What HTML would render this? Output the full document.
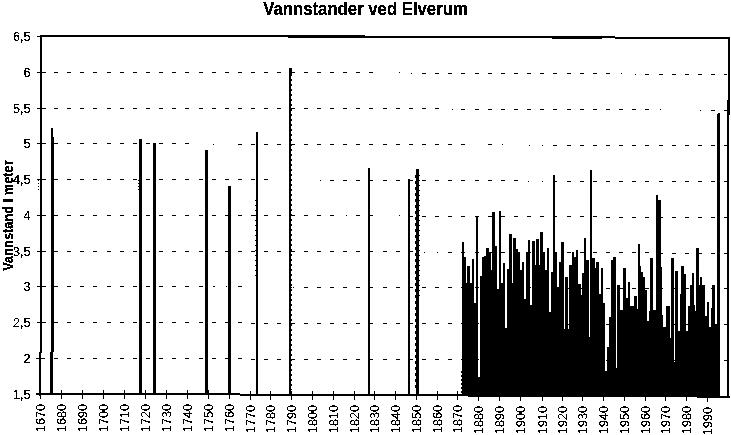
<!DOCTYPE html>
<html><head><meta charset="utf-8"><title>Vannstander ved Elverum</title>
<style>html,body{margin:0;padding:0;background:#fff;}svg{display:block;}</style></head><body>
<svg width="731" height="435" viewBox="0 0 731 435">
<rect x="0" y="0" width="731" height="435" fill="#fff"/>
<g fill="#000" shape-rendering="crispEdges">
<path d="M54 72h4v1h-4zM67 72h4v1h-4zM80 72h4v1h-4zM93 72h4v1h-4zM107 72h4v1h-4zM120 72h4v1h-4zM133 72h4v1h-4zM146 72h4v1h-4zM159 72h4v1h-4zM172 72h4v1h-4zM185 72h4v1h-4zM199 72h4v1h-4zM212 72h4v1h-4zM225 72h4v1h-4zM238 72h4v1h-4zM251 72h4v1h-4zM264 72h4v1h-4zM277 72h4v1h-4zM291 72h4v1h-4zM304 72h4v1h-4zM317 72h4v1h-4zM330 72h4v1h-4zM343 72h4v1h-4zM356 72h4v1h-4zM369 72h4v1h-4zM422 73h4v1h-4zM435 73h4v1h-4zM448 73h4v1h-4zM461 73h4v1h-4zM475 73h4v1h-4zM488 73h4v1h-4zM501 73h4v1h-4zM514 73h4v1h-4zM527 73h4v1h-4zM540 73h4v1h-4zM553 73h4v1h-4zM567 73h4v1h-4zM580 73h4v1h-4zM593 73h4v1h-4zM606 73h4v1h-4zM645 74h4v1h-4zM659 74h4v1h-4zM672 74h4v1h-4zM685 74h4v1h-4zM698 74h4v1h-4zM711 74h4v1h-4zM724 74h3v1h-3zM399 72h1v1h-1zM411 73h1v1h-1zM621 73h1v1h-1zM635 74h1v1h-1zM54 108h4v1h-4zM67 108h4v1h-4zM80 108h4v1h-4zM93 108h4v1h-4zM107 108h4v1h-4zM120 108h4v1h-4zM133 108h4v1h-4zM146 108h4v1h-4zM159 108h4v1h-4zM172 108h4v1h-4zM185 108h4v1h-4zM199 108h4v1h-4zM212 108h4v1h-4zM225 108h4v1h-4zM238 108h4v1h-4zM251 108h4v1h-4zM264 108h4v1h-4zM277 108h4v1h-4zM291 108h4v1h-4zM304 108h4v1h-4zM317 108h4v1h-4zM330 108h4v1h-4zM343 108h4v1h-4zM356 108h4v1h-4zM369 108h4v1h-4zM383 108h4v1h-4zM396 108h4v1h-4zM409 108h4v1h-4zM422 108h4v1h-4zM435 108h4v1h-4zM461 109h4v1h-4zM475 109h4v1h-4zM488 109h4v1h-4zM501 109h4v1h-4zM514 109h4v1h-4zM527 109h4v1h-4zM540 109h4v1h-4zM553 109h4v1h-4zM567 109h4v1h-4zM580 109h4v1h-4zM593 109h4v1h-4zM606 109h4v1h-4zM619 109h4v1h-4zM632 109h4v1h-4zM645 109h4v1h-4zM711 110h4v1h-4zM724 110h3v1h-3zM452 109h1v1h-1zM660 109h1v1h-1zM700 110h1v1h-1zM54 143h4v1h-4zM67 143h4v1h-4zM80 143h4v1h-4zM93 143h4v1h-4zM107 143h4v1h-4zM120 143h4v1h-4zM133 143h4v1h-4zM146 143h4v1h-4zM159 143h4v1h-4zM172 143h4v1h-4zM185 143h4v1h-4zM238 144h4v1h-4zM251 144h4v1h-4zM264 144h4v1h-4zM277 144h4v1h-4zM291 144h4v1h-4zM304 144h4v1h-4zM317 144h4v1h-4zM330 144h4v1h-4zM343 144h4v1h-4zM356 144h4v1h-4zM369 144h4v1h-4zM383 144h4v1h-4zM396 144h4v1h-4zM409 144h4v1h-4zM422 144h4v1h-4zM435 144h4v1h-4zM448 144h4v1h-4zM461 144h4v1h-4zM488 144h4v1h-4zM553 145h4v1h-4zM567 145h4v1h-4zM580 145h4v1h-4zM593 145h4v1h-4zM606 145h4v1h-4zM619 145h4v1h-4zM632 145h4v1h-4zM645 145h4v1h-4zM659 145h4v1h-4zM672 145h4v1h-4zM685 145h4v1h-4zM698 145h4v1h-4zM711 145h4v1h-4zM724 145h3v1h-3zM213 144h1v1h-1zM502 144h1v1h-1zM529 145h1v1h-1zM542 145h1v1h-1zM54 179h4v1h-4zM67 179h4v1h-4zM80 179h4v1h-4zM93 179h4v1h-4zM107 179h4v1h-4zM120 179h4v1h-4zM133 179h4v1h-4zM146 179h4v1h-4zM159 179h4v1h-4zM172 179h4v1h-4zM185 179h4v1h-4zM199 179h4v1h-4zM212 179h4v1h-4zM225 179h4v1h-4zM238 179h4v1h-4zM251 179h4v1h-4zM264 179h4v1h-4zM330 180h4v1h-4zM343 180h4v1h-4zM356 180h4v1h-4zM369 180h4v1h-4zM383 180h4v1h-4zM396 180h4v1h-4zM409 180h4v1h-4zM422 180h4v1h-4zM435 180h4v1h-4zM448 180h4v1h-4zM461 180h4v1h-4zM475 180h4v1h-4zM488 180h4v1h-4zM501 180h4v1h-4zM514 180h4v1h-4zM553 181h4v1h-4zM567 181h4v1h-4zM580 181h4v1h-4zM593 181h4v1h-4zM606 181h4v1h-4zM619 181h4v1h-4zM632 181h4v1h-4zM645 181h4v1h-4zM659 181h4v1h-4zM672 181h4v1h-4zM685 181h4v1h-4zM698 181h4v1h-4zM711 181h4v1h-4zM724 181h3v1h-3zM320 180h1v1h-1zM528 181h1v1h-1zM542 181h1v1h-1zM54 215h4v1h-4zM67 215h4v1h-4zM80 215h4v1h-4zM93 215h4v1h-4zM107 215h4v1h-4zM120 215h4v1h-4zM133 215h4v1h-4zM146 215h4v1h-4zM159 215h4v1h-4zM172 215h4v1h-4zM185 215h4v1h-4zM199 215h4v1h-4zM212 215h4v1h-4zM225 215h4v1h-4zM238 215h4v1h-4zM251 215h4v1h-4zM264 215h4v1h-4zM277 215h4v1h-4zM291 215h4v1h-4zM304 215h4v1h-4zM317 215h4v1h-4zM330 215h4v1h-4zM356 215h4v1h-4zM369 215h4v1h-4zM409 216h4v1h-4zM422 216h4v1h-4zM435 216h4v1h-4zM448 216h4v1h-4zM461 216h4v1h-4zM475 216h4v1h-4zM488 216h4v1h-4zM501 216h4v1h-4zM514 216h4v1h-4zM527 216h4v1h-4zM540 216h4v1h-4zM553 216h4v1h-4zM567 216h4v1h-4zM580 216h4v1h-4zM593 216h4v1h-4zM606 217h4v1h-4zM619 217h4v1h-4zM632 217h4v1h-4zM645 217h4v1h-4zM659 217h4v1h-4zM672 217h4v1h-4zM685 217h4v1h-4zM698 217h4v1h-4zM711 217h4v1h-4zM724 217h3v1h-3zM346 215h1v1h-1zM399 215h1v1h-1zM54 251h4v1h-4zM67 251h4v1h-4zM80 251h4v1h-4zM93 251h4v1h-4zM107 251h4v1h-4zM120 251h4v1h-4zM133 251h4v1h-4zM146 251h4v1h-4zM159 251h4v1h-4zM172 251h4v1h-4zM185 251h4v1h-4zM199 251h4v1h-4zM212 251h4v1h-4zM225 251h4v1h-4zM238 251h4v1h-4zM251 251h4v1h-4zM264 251h4v1h-4zM277 251h4v1h-4zM291 251h4v1h-4zM304 251h4v1h-4zM317 251h4v1h-4zM330 251h4v1h-4zM343 251h4v1h-4zM356 251h4v1h-4zM369 251h4v1h-4zM383 251h4v1h-4zM396 251h4v1h-4zM409 251h4v1h-4zM448 252h4v1h-4zM461 252h4v1h-4zM475 252h4v1h-4zM488 252h4v1h-4zM501 252h4v1h-4zM514 252h4v1h-4zM527 252h4v1h-4zM540 252h4v1h-4zM553 252h4v1h-4zM567 252h4v1h-4zM580 252h4v1h-4zM593 252h4v1h-4zM606 252h4v1h-4zM619 252h4v1h-4zM632 252h4v1h-4zM645 252h4v1h-4zM659 253h4v1h-4zM672 253h4v1h-4zM685 253h4v1h-4zM698 253h4v1h-4zM711 253h4v1h-4zM724 253h3v1h-3zM424 252h1v1h-1zM437 252h1v1h-1zM54 286h4v1h-4zM67 286h4v1h-4zM80 286h4v1h-4zM93 286h4v1h-4zM107 286h4v1h-4zM120 286h4v1h-4zM133 286h4v1h-4zM146 286h4v1h-4zM159 286h4v1h-4zM172 286h4v1h-4zM185 286h4v1h-4zM199 286h4v1h-4zM238 286h4v1h-4zM304 287h4v1h-4zM317 287h4v1h-4zM330 287h4v1h-4zM343 287h4v1h-4zM356 287h4v1h-4zM369 287h4v1h-4zM383 287h4v1h-4zM396 287h4v1h-4zM409 287h4v1h-4zM422 287h4v1h-4zM435 287h4v1h-4zM448 287h4v1h-4zM461 287h4v1h-4zM475 287h4v1h-4zM488 287h4v1h-4zM501 287h4v1h-4zM514 287h4v1h-4zM527 287h4v1h-4zM540 287h4v1h-4zM553 287h4v1h-4zM567 288h4v1h-4zM580 288h4v1h-4zM593 288h4v1h-4zM606 288h4v1h-4zM619 288h4v1h-4zM632 288h4v1h-4zM645 288h4v1h-4zM659 288h4v1h-4zM672 288h4v1h-4zM685 288h4v1h-4zM698 288h4v1h-4zM711 288h4v1h-4zM724 288h3v1h-3zM213 286h1v1h-1zM214 286h1v1h-1zM226 286h1v1h-1zM291 287h1v1h-1zM293 287h1v1h-1zM54 322h4v1h-4zM67 322h4v1h-4zM80 322h4v1h-4zM93 322h4v1h-4zM107 322h4v1h-4zM120 322h4v1h-4zM133 322h4v1h-4zM146 322h4v1h-4zM159 322h4v1h-4zM172 322h4v1h-4zM185 322h4v1h-4zM199 322h4v1h-4zM212 322h4v1h-4zM225 322h4v1h-4zM238 322h4v1h-4zM251 323h4v1h-4zM264 323h4v1h-4zM277 323h4v1h-4zM291 323h4v1h-4zM304 323h4v1h-4zM317 323h4v1h-4zM330 323h4v1h-4zM343 323h4v1h-4zM356 323h4v1h-4zM369 323h4v1h-4zM383 323h4v1h-4zM396 323h4v1h-4zM409 323h4v1h-4zM422 323h4v1h-4zM435 323h4v1h-4zM448 323h4v1h-4zM461 323h4v1h-4zM475 323h4v1h-4zM488 323h4v1h-4zM501 323h4v1h-4zM514 323h4v1h-4zM527 323h4v1h-4zM540 323h4v1h-4zM553 323h4v1h-4zM567 324h4v1h-4zM580 324h4v1h-4zM593 324h4v1h-4zM606 324h4v1h-4zM619 324h4v1h-4zM632 324h4v1h-4zM645 324h4v1h-4zM659 324h4v1h-4zM672 324h4v1h-4zM685 324h4v1h-4zM698 324h4v1h-4zM711 324h4v1h-4zM724 324h3v1h-3zM54 358h4v1h-4zM67 358h4v1h-4zM80 358h4v1h-4zM93 358h4v1h-4zM107 358h4v1h-4zM120 358h4v1h-4zM133 358h4v1h-4zM146 358h4v1h-4zM159 358h4v1h-4zM172 358h4v1h-4zM185 358h4v1h-4zM199 358h4v1h-4zM212 358h4v1h-4zM225 358h4v1h-4zM238 358h4v1h-4zM251 359h4v1h-4zM264 359h4v1h-4zM277 359h4v1h-4zM291 359h4v1h-4zM304 359h4v1h-4zM317 359h4v1h-4zM330 359h4v1h-4zM343 359h4v1h-4zM356 359h4v1h-4zM369 359h4v1h-4zM383 359h4v1h-4zM396 359h4v1h-4zM409 359h4v1h-4zM422 359h4v1h-4zM435 359h4v1h-4zM448 359h4v1h-4zM461 359h4v1h-4zM475 359h4v1h-4zM488 359h4v1h-4zM501 359h4v1h-4zM514 359h4v1h-4zM527 359h4v1h-4zM540 359h4v1h-4zM553 359h4v1h-4zM567 359h4v1h-4zM580 359h4v1h-4zM593 359h4v1h-4zM606 360h4v1h-4zM619 360h4v1h-4zM632 360h4v1h-4zM645 360h4v1h-4zM659 360h4v1h-4zM672 360h4v1h-4zM685 360h4v1h-4zM698 360h4v1h-4zM711 360h4v1h-4zM724 360h3v1h-3zM41 35h247v2h-247zM288 35h77v3h-77zM365 36h250v2h-250zM552 38h50v1h-50zM615 37h115v2h-115zM40 35h2v318h-2zM39 352h2v44h-2zM728 37h2v63h-2zM727 100h3v15h-3zM727 115h2v283h-2zM36 393h1v2h-1zM37 393h1v2h-1zM38 393h1v2h-1zM39 393h1v2h-1zM40 393h1v2h-1zM41 393h1v2h-1zM42 393h1v2h-1zM43 393h1v2h-1zM44 393h1v2h-1zM45 393h1v2h-1zM46 393h1v2h-1zM47 393h1v2h-1zM48 393h1v2h-1zM49 393h1v2h-1zM50 393h1v2h-1zM51 393h1v2h-1zM52 393h1v2h-1zM53 393h1v2h-1zM54 393h1v2h-1zM55 393h1v2h-1zM56 393h1v2h-1zM57 393h1v2h-1zM58 393h1v2h-1zM59 393h1v2h-1zM60 393h1v2h-1zM61 393h1v2h-1zM62 393h1v2h-1zM63 393h1v2h-1zM64 393h1v2h-1zM65 393h1v2h-1zM66 393h1v2h-1zM67 393h1v2h-1zM68 393h1v2h-1zM69 393h1v2h-1zM70 393h1v2h-1zM71 393h1v2h-1zM72 393h1v2h-1zM73 393h1v2h-1zM74 393h1v2h-1zM75 393h1v2h-1zM76 393h1v2h-1zM77 393h1v2h-1zM78 393h1v2h-1zM79 393h1v2h-1zM80 393h1v2h-1zM81 393h1v2h-1zM82 393h1v2h-1zM83 393h1v2h-1zM84 393h1v2h-1zM85 393h1v2h-1zM86 393h1v2h-1zM87 393h1v2h-1zM88 393h1v2h-1zM89 393h1v2h-1zM90 393h1v2h-1zM91 393h1v2h-1zM92 393h1v2h-1zM93 393h1v2h-1zM94 393h1v2h-1zM95 393h1v2h-1zM96 393h1v2h-1zM97 393h1v2h-1zM98 393h1v2h-1zM99 393h1v2h-1zM100 393h1v2h-1zM101 393h1v2h-1zM102 393h1v2h-1zM103 393h1v2h-1zM104 393h1v2h-1zM105 393h1v2h-1zM106 393h1v2h-1zM107 393h1v2h-1zM108 393h1v2h-1zM109 393h1v2h-1zM110 393h1v2h-1zM111 393h1v2h-1zM112 393h1v2h-1zM113 393h1v2h-1zM114 393h1v2h-1zM115 393h1v2h-1zM116 393h1v2h-1zM117 393h1v2h-1zM118 393h1v2h-1zM119 393h1v2h-1zM120 393h1v2h-1zM121 393h1v2h-1zM122 393h1v2h-1zM123 393h1v2h-1zM124 393h1v2h-1zM125 393h1v2h-1zM126 393h1v2h-1zM127 393h1v2h-1zM128 393h1v2h-1zM129 393h1v2h-1zM130 393h1v2h-1zM131 393h1v2h-1zM132 393h1v2h-1zM133 393h1v2h-1zM134 393h1v2h-1zM135 393h1v2h-1zM136 393h1v2h-1zM137 393h1v2h-1zM138 393h1v2h-1zM139 393h1v2h-1zM140 393h1v2h-1zM141 393h1v2h-1zM142 393h1v2h-1zM143 393h1v2h-1zM144 393h1v2h-1zM145 393h1v2h-1zM146 393h1v2h-1zM147 393h1v2h-1zM148 393h1v2h-1zM149 393h1v2h-1zM150 393h1v2h-1zM151 393h1v2h-1zM152 393h1v2h-1zM153 393h1v2h-1zM154 393h1v2h-1zM155 393h1v2h-1zM156 393h1v2h-1zM157 393h1v2h-1zM158 393h1v2h-1zM159 393h1v2h-1zM160 393h1v2h-1zM161 393h1v2h-1zM162 393h1v2h-1zM163 393h1v2h-1zM164 393h1v2h-1zM165 393h1v2h-1zM166 393h1v2h-1zM167 393h1v2h-1zM168 393h1v2h-1zM169 393h1v2h-1zM170 393h1v2h-1zM171 393h1v2h-1zM172 393h1v2h-1zM173 393h1v2h-1zM174 393h1v2h-1zM175 393h1v2h-1zM176 393h1v2h-1zM177 393h1v2h-1zM178 393h1v2h-1zM179 393h1v2h-1zM180 393h1v2h-1zM181 393h1v2h-1zM182 393h1v2h-1zM183 393h1v2h-1zM184 393h1v2h-1zM185 393h1v2h-1zM186 393h1v2h-1zM187 393h1v2h-1zM188 393h1v2h-1zM189 393h1v2h-1zM190 393h1v2h-1zM191 393h1v2h-1zM192 393h1v2h-1zM193 393h1v2h-1zM194 393h1v2h-1zM195 393h1v2h-1zM196 393h1v2h-1zM197 393h1v2h-1zM198 393h1v2h-1zM199 393h1v2h-1zM200 393h1v2h-1zM201 393h1v2h-1zM202 393h1v2h-1zM203 393h1v2h-1zM204 393h1v2h-1zM205 393h1v2h-1zM206 393h1v2h-1zM207 393h1v2h-1zM208 393h1v2h-1zM209 393h1v2h-1zM210 393h1v2h-1zM211 393h1v2h-1zM212 393h1v2h-1zM213 393h1v2h-1zM214 393h1v2h-1zM215 393h1v2h-1zM216 393h1v2h-1zM217 393h1v2h-1zM218 393h1v2h-1zM219 393h1v2h-1zM220 393h1v2h-1zM221 393h1v2h-1zM222 393h1v2h-1zM223 393h1v2h-1zM224 393h1v2h-1zM225 393h1v2h-1zM226 393h1v2h-1zM227 393h1v2h-1zM228 393h1v2h-1zM229 393h1v2h-1zM230 393h1v2h-1zM231 393h1v2h-1zM232 393h1v2h-1zM233 393h1v2h-1zM234 393h1v2h-1zM235 393h1v2h-1zM236 393h1v2h-1zM237 393h1v2h-1zM238 393h1v2h-1zM239 393h1v2h-1zM240 394h1v2h-1zM241 394h1v2h-1zM242 394h1v2h-1zM243 394h1v2h-1zM244 394h1v2h-1zM245 394h1v2h-1zM246 394h1v2h-1zM247 394h1v2h-1zM248 394h1v2h-1zM249 394h1v2h-1zM250 394h1v2h-1zM251 394h1v2h-1zM252 394h1v2h-1zM253 394h1v2h-1zM254 394h1v2h-1zM255 394h1v2h-1zM256 394h1v2h-1zM257 394h1v2h-1zM258 394h1v2h-1zM259 394h1v2h-1zM260 394h1v2h-1zM261 394h1v2h-1zM262 394h1v2h-1zM263 394h1v2h-1zM264 394h1v2h-1zM265 394h1v2h-1zM266 394h1v2h-1zM267 394h1v2h-1zM268 394h1v2h-1zM269 394h1v2h-1zM270 394h1v2h-1zM271 394h1v2h-1zM272 394h1v2h-1zM273 394h1v2h-1zM274 394h1v2h-1zM275 394h1v2h-1zM276 394h1v2h-1zM277 394h1v2h-1zM278 394h1v2h-1zM279 394h1v2h-1zM280 394h1v2h-1zM281 394h1v2h-1zM282 394h1v2h-1zM283 394h1v2h-1zM284 394h1v2h-1zM285 394h1v2h-1zM286 394h1v2h-1zM287 394h1v2h-1zM288 394h1v2h-1zM289 394h1v2h-1zM290 394h1v2h-1zM291 394h1v2h-1zM292 394h1v2h-1zM293 394h1v2h-1zM294 394h1v2h-1zM295 394h1v2h-1zM296 394h1v2h-1zM297 394h1v2h-1zM298 394h1v2h-1zM299 394h1v2h-1zM300 394h1v2h-1zM301 394h1v2h-1zM302 394h1v2h-1zM303 394h1v2h-1zM304 394h1v2h-1zM305 394h1v2h-1zM306 394h1v2h-1zM307 394h1v2h-1zM308 394h1v2h-1zM309 394h1v2h-1zM310 394h1v2h-1zM311 394h1v2h-1zM312 394h1v2h-1zM313 394h1v2h-1zM314 394h1v2h-1zM315 394h1v2h-1zM316 394h1v2h-1zM317 394h1v2h-1zM318 394h1v2h-1zM319 394h1v2h-1zM320 394h1v2h-1zM321 394h1v2h-1zM322 394h1v2h-1zM323 394h1v2h-1zM324 394h1v2h-1zM325 394h1v2h-1zM326 394h1v2h-1zM327 394h1v2h-1zM328 394h1v2h-1zM329 394h1v2h-1zM330 394h1v2h-1zM331 394h1v2h-1zM332 394h1v2h-1zM333 394h1v2h-1zM334 394h1v2h-1zM335 394h1v2h-1zM336 394h1v2h-1zM337 394h1v2h-1zM338 394h1v2h-1zM339 394h1v2h-1zM340 394h1v2h-1zM341 394h1v2h-1zM342 394h1v2h-1zM343 394h1v2h-1zM344 394h1v2h-1zM345 394h1v2h-1zM346 394h1v2h-1zM347 394h1v2h-1zM348 394h1v2h-1zM349 394h1v2h-1zM350 394h1v2h-1zM351 394h1v2h-1zM352 394h1v2h-1zM353 394h1v2h-1zM354 394h1v2h-1zM355 394h1v2h-1zM356 394h1v2h-1zM357 394h1v2h-1zM358 394h1v2h-1zM359 394h1v2h-1zM360 394h1v2h-1zM361 394h1v2h-1zM362 394h1v2h-1zM363 394h1v2h-1zM364 394h1v2h-1zM365 394h1v2h-1zM366 394h1v2h-1zM367 394h1v2h-1zM368 394h1v2h-1zM369 394h1v2h-1zM370 394h1v2h-1zM371 394h1v2h-1zM372 394h1v2h-1zM373 394h1v2h-1zM374 394h1v2h-1zM375 394h1v2h-1zM376 394h1v2h-1zM377 394h1v2h-1zM378 394h1v2h-1zM379 394h1v2h-1zM380 394h1v2h-1zM381 394h1v2h-1zM382 394h1v2h-1zM383 394h1v2h-1zM384 394h1v2h-1zM385 394h1v2h-1zM386 394h1v2h-1zM387 394h1v2h-1zM388 394h1v2h-1zM389 394h1v2h-1zM390 394h1v2h-1zM391 394h1v2h-1zM392 394h1v2h-1zM393 394h1v2h-1zM394 394h1v2h-1zM395 394h1v2h-1zM396 394h1v2h-1zM397 394h1v2h-1zM398 394h1v2h-1zM399 394h1v2h-1zM400 394h1v2h-1zM401 394h1v2h-1zM402 394h1v2h-1zM403 394h1v2h-1zM404 394h1v2h-1zM405 394h1v2h-1zM406 394h1v2h-1zM407 394h1v2h-1zM408 394h1v2h-1zM409 394h1v2h-1zM410 394h1v2h-1zM411 394h1v2h-1zM412 394h1v2h-1zM413 394h1v2h-1zM414 394h1v2h-1zM415 394h1v2h-1zM416 394h1v2h-1zM417 394h1v2h-1zM418 394h1v2h-1zM419 394h1v2h-1zM420 394h1v2h-1zM421 394h1v2h-1zM422 394h1v2h-1zM423 394h1v2h-1zM424 394h1v2h-1zM425 394h1v2h-1zM426 394h1v2h-1zM427 394h1v2h-1zM428 394h1v2h-1zM429 394h1v2h-1zM430 394h1v2h-1zM431 394h1v2h-1zM432 394h1v2h-1zM433 394h1v2h-1zM434 394h1v2h-1zM435 394h1v2h-1zM436 394h1v2h-1zM437 394h1v2h-1zM438 394h1v2h-1zM439 394h1v2h-1zM440 394h1v2h-1zM441 394h1v2h-1zM442 394h1v2h-1zM443 394h1v2h-1zM444 394h1v2h-1zM445 394h1v2h-1zM446 394h1v2h-1zM447 394h1v2h-1zM448 394h1v2h-1zM449 394h1v2h-1zM450 394h1v2h-1zM451 394h1v2h-1zM452 394h1v2h-1zM453 394h1v2h-1zM454 394h1v2h-1zM455 394h1v2h-1zM456 394h1v2h-1zM457 394h1v2h-1zM458 394h1v2h-1zM459 394h1v2h-1zM460 394h1v2h-1zM461 394h1v2h-1zM462 394h1v2h-1zM463 394h1v2h-1zM464 394h1v2h-1zM465 394h1v2h-1zM466 394h1v2h-1zM467 394h1v2h-1zM468 395h1v2h-1zM469 395h1v2h-1zM470 395h1v2h-1zM471 395h1v2h-1zM472 395h1v2h-1zM473 395h1v2h-1zM474 395h1v2h-1zM475 395h1v2h-1zM476 395h1v2h-1zM477 395h1v2h-1zM478 395h1v2h-1zM479 395h1v2h-1zM480 395h1v2h-1zM481 395h1v2h-1zM482 395h1v2h-1zM483 395h1v2h-1zM484 395h1v2h-1zM485 395h1v2h-1zM486 395h1v2h-1zM487 395h1v2h-1zM488 395h1v2h-1zM489 395h1v2h-1zM490 395h1v2h-1zM491 395h1v2h-1zM492 395h1v2h-1zM493 395h1v2h-1zM494 395h1v2h-1zM495 395h1v2h-1zM496 395h1v2h-1zM497 395h1v2h-1zM498 395h1v2h-1zM499 395h1v2h-1zM500 395h1v2h-1zM501 395h1v2h-1zM502 395h1v2h-1zM503 395h1v2h-1zM504 395h1v2h-1zM505 395h1v2h-1zM506 395h1v2h-1zM507 395h1v2h-1zM508 395h1v2h-1zM509 395h1v2h-1zM510 395h1v2h-1zM511 395h1v2h-1zM512 395h1v2h-1zM513 395h1v2h-1zM514 395h1v2h-1zM515 395h1v2h-1zM516 395h1v2h-1zM517 395h1v2h-1zM518 395h1v2h-1zM519 395h1v2h-1zM520 395h1v2h-1zM521 395h1v2h-1zM522 395h1v2h-1zM523 395h1v2h-1zM524 395h1v2h-1zM525 395h1v2h-1zM526 395h1v2h-1zM527 395h1v2h-1zM528 395h1v2h-1zM529 395h1v2h-1zM530 395h1v2h-1zM531 395h1v2h-1zM532 395h1v2h-1zM533 395h1v2h-1zM534 395h1v2h-1zM535 395h1v2h-1zM536 395h1v2h-1zM537 395h1v2h-1zM538 395h1v2h-1zM539 395h1v2h-1zM540 395h1v2h-1zM541 395h1v2h-1zM542 395h1v2h-1zM543 395h1v2h-1zM544 395h1v2h-1zM545 395h1v2h-1zM546 395h1v2h-1zM547 395h1v2h-1zM548 395h1v2h-1zM549 395h1v2h-1zM550 395h1v2h-1zM551 395h1v2h-1zM552 395h1v2h-1zM553 395h1v2h-1zM554 395h1v2h-1zM555 395h1v2h-1zM556 395h1v2h-1zM557 395h1v2h-1zM558 395h1v2h-1zM559 395h1v2h-1zM560 395h1v2h-1zM561 395h1v2h-1zM562 395h1v2h-1zM563 395h1v2h-1zM564 395h1v2h-1zM565 395h1v2h-1zM566 395h1v2h-1zM567 395h1v2h-1zM568 395h1v2h-1zM569 395h1v2h-1zM570 395h1v2h-1zM571 395h1v2h-1zM572 395h1v2h-1zM573 395h1v2h-1zM574 395h1v2h-1zM575 395h1v2h-1zM576 395h1v2h-1zM577 395h1v2h-1zM578 395h1v2h-1zM579 395h1v2h-1zM580 395h1v2h-1zM581 395h1v2h-1zM582 395h1v2h-1zM583 395h1v2h-1zM584 395h1v2h-1zM585 395h1v2h-1zM586 395h1v2h-1zM587 395h1v2h-1zM588 395h1v2h-1zM589 395h1v2h-1zM590 395h1v2h-1zM591 395h1v2h-1zM592 395h1v2h-1zM593 395h1v2h-1zM594 395h1v2h-1zM595 395h1v2h-1zM596 395h1v2h-1zM597 395h1v2h-1zM598 395h1v2h-1zM599 395h1v2h-1zM600 395h1v2h-1zM601 395h1v2h-1zM602 395h1v2h-1zM603 395h1v2h-1zM604 395h1v2h-1zM605 395h1v2h-1zM606 395h1v2h-1zM607 395h1v2h-1zM608 395h1v2h-1zM609 395h1v2h-1zM610 395h1v2h-1zM611 395h1v2h-1zM612 395h1v2h-1zM613 395h1v2h-1zM614 395h1v2h-1zM615 395h1v2h-1zM616 395h1v2h-1zM617 395h1v2h-1zM618 395h1v2h-1zM619 395h1v2h-1zM620 395h1v2h-1zM621 395h1v2h-1zM622 395h1v2h-1zM623 395h1v2h-1zM624 395h1v2h-1zM625 395h1v2h-1zM626 395h1v2h-1zM627 395h1v2h-1zM628 395h1v2h-1zM629 395h1v2h-1zM630 395h1v2h-1zM631 395h1v2h-1zM632 395h1v2h-1zM633 395h1v2h-1zM634 395h1v2h-1zM635 395h1v2h-1zM636 395h1v2h-1zM637 395h1v2h-1zM638 395h1v2h-1zM639 395h1v2h-1zM640 395h1v2h-1zM641 395h1v2h-1zM642 395h1v2h-1zM643 395h1v2h-1zM644 395h1v2h-1zM645 395h1v2h-1zM646 395h1v2h-1zM647 395h1v2h-1zM648 395h1v2h-1zM649 395h1v2h-1zM650 395h1v2h-1zM651 395h1v2h-1zM652 395h1v2h-1zM653 395h1v2h-1zM654 395h1v2h-1zM655 395h1v2h-1zM656 395h1v2h-1zM657 395h1v2h-1zM658 395h1v2h-1zM659 395h1v2h-1zM660 395h1v2h-1zM661 395h1v2h-1zM662 395h1v2h-1zM663 395h1v2h-1zM664 395h1v2h-1zM665 395h1v2h-1zM666 395h1v2h-1zM667 395h1v2h-1zM668 395h1v2h-1zM669 395h1v2h-1zM670 395h1v2h-1zM671 395h1v2h-1zM672 395h1v2h-1zM673 395h1v2h-1zM674 395h1v2h-1zM675 395h1v2h-1zM676 395h1v2h-1zM677 395h1v2h-1zM678 395h1v2h-1zM679 395h1v2h-1zM680 395h1v2h-1zM681 395h1v2h-1zM682 395h1v2h-1zM683 395h1v2h-1zM684 395h1v2h-1zM685 395h1v2h-1zM686 395h1v2h-1zM687 395h1v2h-1zM688 395h1v2h-1zM689 395h1v2h-1zM690 395h1v2h-1zM691 395h1v2h-1zM692 395h1v2h-1zM693 395h1v2h-1zM694 395h1v2h-1zM695 395h1v2h-1zM696 395h1v2h-1zM697 396h1v2h-1zM698 396h1v2h-1zM699 396h1v2h-1zM700 396h1v2h-1zM701 396h1v2h-1zM702 396h1v2h-1zM703 396h1v2h-1zM704 396h1v2h-1zM705 396h1v2h-1zM706 396h1v2h-1zM707 396h1v2h-1zM708 396h1v2h-1zM709 396h1v2h-1zM710 396h1v2h-1zM711 396h1v2h-1zM712 396h1v2h-1zM713 396h1v2h-1zM714 396h1v2h-1zM715 396h1v2h-1zM716 396h1v2h-1zM717 396h1v2h-1zM718 396h1v2h-1zM719 396h1v2h-1zM720 396h1v2h-1zM721 396h1v2h-1zM722 396h1v2h-1zM723 396h1v2h-1zM724 396h1v2h-1zM725 396h1v2h-1zM726 396h1v2h-1zM727 396h1v2h-1zM728 396h1v2h-1zM729 396h1v2h-1zM37 36h9v1h-9zM37 72h9v1h-9zM37 108h9v1h-9zM37 143h9v1h-9zM37 179h9v1h-9zM37 215h9v1h-9zM37 251h9v1h-9zM37 286h9v1h-9zM37 322h9v1h-9zM36 358h9v1h-9zM36 394h9v1h-9zM40 390h1v9h-1zM61 390h1v9h-1zM82 390h1v9h-1zM103 390h1v9h-1zM124 390h1v9h-1zM145 390h1v9h-1zM166 390h1v9h-1zM187 390h1v9h-1zM208 390h1v9h-1zM229 390h1v9h-1zM250 391h1v9h-1zM270 391h1v9h-1zM291 391h1v9h-1zM312 391h1v9h-1zM333 391h1v9h-1zM354 391h1v9h-1zM374 391h1v9h-1zM395 391h1v9h-1zM416 391h1v9h-1zM437 391h1v9h-1zM457 391h1v9h-1zM478 392h1v9h-1zM499 392h1v9h-1zM520 392h1v9h-1zM542 392h1v9h-1zM562 392h1v9h-1zM582 392h1v9h-1zM603 392h1v9h-1zM624 392h1v9h-1zM645 392h1v9h-1zM665 392h1v9h-1zM686 392h1v9h-1zM707 393h1v9h-1zM51 128h1v224h-1zM52 128h1v224h-1zM53 137h1v215h-1zM50 352h1v43h-1zM51 352h1v43h-1zM52 352h1v43h-1zM139 139h1v256h-1zM140 139h1v256h-1zM141 139h1v256h-1zM153 143h1v252h-1zM154 143h1v252h-1zM155 143h1v252h-1zM205 150h1v245h-1zM206 150h1v245h-1zM207 150h1v245h-1zM228 186h1v209h-1zM229 186h1v209h-1zM230 186h1v209h-1zM256 132h1v264h-1zM257 132h1v264h-1zM289 68h1v328h-1zM290 68h1v328h-1zM291 68h1v6h-1zM368 168h1v228h-1zM369 168h1v228h-1zM408 179h1v217h-1zM409 179h1v217h-1zM416 169h1v227h-1zM417 169h1v227h-1zM418 169h1v227h-1zM462 242h1v154h-1zM463 242h1v154h-1zM464 257h1v139h-1zM465 257h1v139h-1zM466 283h1v113h-1zM467 266h1v130h-1zM468 266h1v131h-1zM469 266h1v131h-1zM470 283h1v114h-1zM471 283h1v114h-1zM472 259h1v138h-1zM473 259h1v138h-1zM474 303h1v94h-1zM475 303h1v94h-1zM476 216h1v181h-1zM477 216h1v181h-1zM478 377h1v20h-1zM479 377h1v20h-1zM480 276h1v121h-1zM481 276h1v121h-1zM482 257h1v140h-1zM483 257h1v140h-1zM484 256h1v141h-1zM485 256h1v141h-1zM486 248h1v149h-1zM487 248h1v149h-1zM488 248h1v149h-1zM489 252h1v145h-1zM490 252h1v145h-1zM491 270h1v127h-1zM492 212h1v185h-1zM493 212h1v185h-1zM494 212h1v185h-1zM495 246h1v151h-1zM496 246h1v151h-1zM497 289h1v108h-1zM498 289h1v108h-1zM499 211h1v186h-1zM500 211h1v186h-1zM501 283h1v114h-1zM502 283h1v114h-1zM503 263h1v134h-1zM504 263h1v134h-1zM505 328h1v69h-1zM506 328h1v69h-1zM507 269h1v128h-1zM508 269h1v128h-1zM509 234h1v163h-1zM510 234h1v163h-1zM511 234h1v163h-1zM512 283h1v114h-1zM513 238h1v159h-1zM514 238h1v159h-1zM515 238h1v159h-1zM516 249h1v148h-1zM517 249h1v148h-1zM518 252h1v145h-1zM519 252h1v145h-1zM520 270h1v127h-1zM521 270h1v127h-1zM522 262h1v135h-1zM523 262h1v135h-1zM524 299h1v98h-1zM525 299h1v98h-1zM526 252h1v145h-1zM527 252h1v145h-1zM528 240h1v157h-1zM529 240h1v157h-1zM530 305h1v92h-1zM531 305h1v92h-1zM532 241h1v156h-1zM533 241h1v156h-1zM534 241h1v156h-1zM535 265h1v132h-1zM536 239h1v158h-1zM537 239h1v158h-1zM538 239h1v158h-1zM539 265h1v132h-1zM540 232h1v165h-1zM541 232h1v165h-1zM542 232h1v165h-1zM543 252h1v145h-1zM544 252h1v145h-1zM545 270h1v127h-1zM546 270h1v127h-1zM547 248h1v149h-1zM548 248h1v149h-1zM549 312h1v85h-1zM550 312h1v85h-1zM551 272h1v125h-1zM552 272h1v125h-1zM553 175h1v222h-1zM554 175h1v222h-1zM555 252h1v145h-1zM556 252h1v145h-1zM557 287h1v110h-1zM558 287h1v110h-1zM559 262h1v135h-1zM560 262h1v135h-1zM561 242h1v155h-1zM562 242h1v155h-1zM563 242h1v155h-1zM564 329h1v68h-1zM565 277h1v120h-1zM566 277h1v120h-1zM567 277h1v120h-1zM568 329h1v68h-1zM569 265h1v132h-1zM570 265h1v132h-1zM571 265h1v132h-1zM572 252h1v145h-1zM573 252h1v145h-1zM574 257h1v140h-1zM575 257h1v140h-1zM576 250h1v147h-1zM577 250h1v147h-1zM578 284h1v113h-1zM579 284h1v113h-1zM580 284h1v113h-1zM581 295h1v102h-1zM582 273h1v124h-1zM583 273h1v124h-1zM584 238h1v159h-1zM585 238h1v159h-1zM586 260h1v137h-1zM587 260h1v137h-1zM588 260h1v137h-1zM589 337h1v60h-1zM590 170h1v227h-1zM591 170h1v227h-1zM592 258h1v139h-1zM593 258h1v139h-1zM594 258h1v139h-1zM595 268h1v129h-1zM596 262h1v135h-1zM597 262h1v135h-1zM598 262h1v135h-1zM599 294h1v103h-1zM600 294h1v103h-1zM601 268h1v129h-1zM602 268h1v129h-1zM603 303h1v94h-1zM604 303h1v94h-1zM605 371h1v26h-1zM606 371h1v26h-1zM607 347h1v50h-1zM608 347h1v50h-1zM609 317h1v80h-1zM610 317h1v80h-1zM611 260h1v137h-1zM612 260h1v137h-1zM613 257h1v140h-1zM614 257h1v140h-1zM615 257h1v140h-1zM616 368h1v29h-1zM617 285h1v112h-1zM618 285h1v112h-1zM619 285h1v112h-1zM620 310h1v87h-1zM621 310h1v87h-1zM622 310h1v87h-1zM623 268h1v129h-1zM624 268h1v129h-1zM625 268h1v129h-1zM626 298h1v99h-1zM627 298h1v99h-1zM628 282h1v115h-1zM629 282h1v115h-1zM630 306h1v91h-1zM631 306h1v91h-1zM632 306h1v91h-1zM633 306h1v91h-1zM634 296h1v101h-1zM635 296h1v101h-1zM636 296h1v101h-1zM637 309h1v88h-1zM638 244h1v153h-1zM639 244h1v153h-1zM640 266h1v131h-1zM641 272h1v125h-1zM642 272h1v125h-1zM643 277h1v120h-1zM644 277h1v120h-1zM645 290h1v107h-1zM646 290h1v107h-1zM647 321h1v76h-1zM648 321h1v76h-1zM649 311h1v86h-1zM650 258h1v139h-1zM651 258h1v139h-1zM652 258h1v139h-1zM653 310h1v87h-1zM654 310h1v87h-1zM655 310h1v87h-1zM656 195h1v202h-1zM657 195h1v202h-1zM658 200h1v197h-1zM659 200h1v197h-1zM660 200h1v197h-1zM661 267h1v130h-1zM662 315h1v82h-1zM663 327h1v70h-1zM664 327h1v70h-1zM665 327h1v70h-1zM666 306h1v91h-1zM667 306h1v91h-1zM668 306h1v91h-1zM669 306h1v91h-1zM670 338h1v59h-1zM671 258h1v139h-1zM672 258h1v139h-1zM673 258h1v139h-1zM674 362h1v35h-1zM675 271h1v126h-1zM676 271h1v126h-1zM677 271h1v126h-1zM678 331h1v66h-1zM679 331h1v66h-1zM680 294h1v103h-1zM681 266h1v131h-1zM682 266h1v131h-1zM683 266h1v131h-1zM684 274h1v123h-1zM685 274h1v123h-1zM686 331h1v66h-1zM687 331h1v66h-1zM688 306h1v91h-1zM689 306h1v91h-1zM690 285h1v112h-1zM691 285h1v112h-1zM692 273h1v124h-1zM693 273h1v124h-1zM694 305h1v92h-1zM695 311h1v86h-1zM696 248h1v149h-1zM697 248h1v150h-1zM698 248h1v150h-1zM699 285h1v113h-1zM700 277h1v121h-1zM701 277h1v121h-1zM702 285h1v113h-1zM703 285h1v113h-1zM704 285h1v113h-1zM705 316h1v82h-1zM706 316h1v82h-1zM707 302h1v96h-1zM708 302h1v96h-1zM709 327h1v71h-1zM710 327h1v71h-1zM711 308h1v90h-1zM712 285h1v113h-1zM713 285h1v113h-1zM714 285h1v113h-1zM715 324h1v74h-1zM716 324h1v74h-1zM717 114h1v284h-1zM718 113h1v285h-1zM719 113h1v285h-1zM291 74h1v2h-1zM291 79h1v2h-1zM291 84h1v2h-1zM291 89h1v2h-1zM291 94h1v2h-1zM291 99h1v2h-1zM291 104h1v2h-1zM291 109h1v2h-1zM291 114h1v2h-1zM291 119h1v2h-1zM291 124h1v2h-1zM291 129h1v2h-1zM291 134h1v2h-1zM291 139h1v2h-1zM291 144h1v2h-1zM291 149h1v2h-1zM291 154h1v2h-1zM291 159h1v2h-1zM291 164h1v2h-1zM291 169h1v2h-1zM291 174h1v2h-1zM291 179h1v2h-1zM291 184h1v2h-1zM291 189h1v2h-1zM291 194h1v2h-1zM291 199h1v2h-1zM291 204h1v2h-1zM291 209h1v2h-1zM291 214h1v2h-1zM291 219h1v2h-1zM291 224h1v2h-1zM291 229h1v2h-1zM291 234h1v2h-1zM291 239h1v2h-1zM291 244h1v2h-1zM291 249h1v2h-1zM291 254h1v2h-1zM291 259h1v2h-1zM291 264h1v2h-1zM291 269h1v2h-1zM291 274h1v2h-1zM291 279h1v2h-1zM291 284h1v2h-1zM291 289h1v2h-1zM291 294h1v2h-1zM291 299h1v2h-1zM291 304h1v2h-1zM291 309h1v2h-1zM291 314h1v2h-1zM291 319h1v2h-1zM291 324h1v2h-1zM291 329h1v2h-1zM291 334h1v2h-1zM291 339h1v2h-1zM291 344h1v2h-1zM291 349h1v2h-1zM291 354h1v2h-1zM291 359h1v2h-1zM291 364h1v2h-1zM291 369h1v2h-1zM291 374h1v2h-1zM291 379h1v2h-1zM291 384h1v2h-1zM291 389h1v1h-1zM415 175h1v3h-1zM415 181h1v3h-1zM415 187h1v3h-1zM415 193h1v3h-1zM415 199h1v3h-1zM415 205h1v3h-1zM415 211h1v3h-1zM415 217h1v3h-1zM415 223h1v3h-1zM415 229h1v3h-1zM415 235h1v3h-1zM415 241h1v3h-1zM415 247h1v3h-1zM415 253h1v3h-1zM415 259h1v3h-1zM415 265h1v3h-1zM415 271h1v3h-1zM415 277h1v3h-1zM415 283h1v3h-1zM415 289h1v3h-1zM415 295h1v3h-1zM415 301h1v3h-1zM415 307h1v3h-1zM415 313h1v3h-1zM415 319h1v3h-1zM415 325h1v3h-1zM415 331h1v3h-1zM415 337h1v3h-1zM415 343h1v3h-1zM415 349h1v3h-1zM415 355h1v3h-1zM415 361h1v3h-1zM415 367h1v3h-1zM415 373h1v3h-1zM415 379h1v3h-1zM415 385h1v3h-1zM419 175h1v1h-1zM419 180h1v1h-1zM419 185h1v1h-1zM419 190h1v1h-1zM419 195h1v1h-1zM419 200h1v1h-1zM419 205h1v1h-1zM419 210h1v1h-1zM419 215h1v1h-1zM419 220h1v1h-1zM419 225h1v1h-1zM419 230h1v1h-1zM419 235h1v1h-1zM419 240h1v1h-1zM419 245h1v1h-1zM419 250h1v1h-1zM419 255h1v1h-1zM419 260h1v1h-1zM419 265h1v1h-1zM419 270h1v1h-1zM419 275h1v1h-1zM419 280h1v1h-1zM419 285h1v1h-1zM419 290h1v1h-1zM419 295h1v1h-1zM461 371h1v2h-1zM461 375h1v2h-1zM461 379h1v2h-1zM461 383h1v2h-1zM461 387h1v2h-1zM461 391h1v2h-1zM38 180h1v1h-1zM38 183h1v1h-1zM38 186h1v1h-1zM38 189h1v1h-1zM138 180h1v1h-1zM138 183h1v1h-1zM138 186h1v1h-1zM138 189h1v1h-1zM255 200h1v1h-1zM255 205h1v1h-1zM255 210h1v1h-1zM255 215h1v1h-1zM255 220h1v1h-1zM255 225h1v1h-1zM255 230h1v1h-1zM255 235h1v1h-1zM255 240h1v1h-1zM255 245h1v1h-1zM255 250h1v1h-1zM255 255h1v1h-1zM255 260h1v1h-1zM255 265h1v1h-1zM255 270h1v1h-1zM255 275h1v1h-1z"/>
</g>
<defs><filter id="bin" x="-2%" y="-2%" width="104%" height="104%" color-interpolation-filters="sRGB"><feComponentTransfer><feFuncA type="discrete" tableValues="0 1 1"/></feComponentTransfer></filter></defs>
<g fill="#000" filter="url(#bin)">
<text transform="translate(365.5,15) scale(0.957,1)" text-anchor="middle" font-family='"Liberation Sans", Arial, Helvetica, sans-serif' font-weight="bold" font-size="17.5">Vannstander ved Elverum</text>
<text transform="translate(13.3,215.5) rotate(-90) scale(0.917,1)" text-anchor="middle" font-family='"Liberation Sans", Arial, Helvetica, sans-serif' font-weight="bold" font-size="14">Vannstand I meter</text>
<text x="30.5" y="41" text-anchor="end" font-family='"Liberation Sans", Arial, Helvetica, sans-serif' font-size="12.5">6,5</text>
<text x="30.5" y="77" text-anchor="end" font-family='"Liberation Sans", Arial, Helvetica, sans-serif' font-size="12.5">6</text>
<text x="30.5" y="113" text-anchor="end" font-family='"Liberation Sans", Arial, Helvetica, sans-serif' font-size="12.5">5,5</text>
<text x="30.5" y="148" text-anchor="end" font-family='"Liberation Sans", Arial, Helvetica, sans-serif' font-size="12.5">5</text>
<text x="30.5" y="184" text-anchor="end" font-family='"Liberation Sans", Arial, Helvetica, sans-serif' font-size="12.5">4,5</text>
<text x="30.5" y="220" text-anchor="end" font-family='"Liberation Sans", Arial, Helvetica, sans-serif' font-size="12.5">4</text>
<text x="30.5" y="256" text-anchor="end" font-family='"Liberation Sans", Arial, Helvetica, sans-serif' font-size="12.5">3,5</text>
<text x="30.5" y="291" text-anchor="end" font-family='"Liberation Sans", Arial, Helvetica, sans-serif' font-size="12.5">3</text>
<text x="30.5" y="327" text-anchor="end" font-family='"Liberation Sans", Arial, Helvetica, sans-serif' font-size="12.5">2,5</text>
<text x="30.5" y="363" text-anchor="end" font-family='"Liberation Sans", Arial, Helvetica, sans-serif' font-size="12.5">2</text>
<text x="30.5" y="399" text-anchor="end" font-family='"Liberation Sans", Arial, Helvetica, sans-serif' font-size="12.5">1,5</text>
<text transform="translate(44.9,432.2) rotate(-90)" letter-spacing="0.15" font-family='"Liberation Sans", Arial, Helvetica, sans-serif' font-size="12.5">1670</text>
<text transform="translate(65.9,432.2) rotate(-90)" letter-spacing="0.15" font-family='"Liberation Sans", Arial, Helvetica, sans-serif' font-size="12.5">1680</text>
<text transform="translate(86.9,432.2) rotate(-90)" letter-spacing="0.15" font-family='"Liberation Sans", Arial, Helvetica, sans-serif' font-size="12.5">1690</text>
<text transform="translate(107.9,432.2) rotate(-90)" letter-spacing="0.15" font-family='"Liberation Sans", Arial, Helvetica, sans-serif' font-size="12.5">1700</text>
<text transform="translate(128.9,432.2) rotate(-90)" letter-spacing="0.15" font-family='"Liberation Sans", Arial, Helvetica, sans-serif' font-size="12.5">1710</text>
<text transform="translate(149.9,432.2) rotate(-90)" letter-spacing="0.15" font-family='"Liberation Sans", Arial, Helvetica, sans-serif' font-size="12.5">1720</text>
<text transform="translate(170.9,432.2) rotate(-90)" letter-spacing="0.15" font-family='"Liberation Sans", Arial, Helvetica, sans-serif' font-size="12.5">1730</text>
<text transform="translate(191.9,432.2) rotate(-90)" letter-spacing="0.15" font-family='"Liberation Sans", Arial, Helvetica, sans-serif' font-size="12.5">1740</text>
<text transform="translate(212.9,432.2) rotate(-90)" letter-spacing="0.15" font-family='"Liberation Sans", Arial, Helvetica, sans-serif' font-size="12.5">1750</text>
<text transform="translate(233.9,432.2) rotate(-90)" letter-spacing="0.15" font-family='"Liberation Sans", Arial, Helvetica, sans-serif' font-size="12.5">1760</text>
<text transform="translate(254.9,433.2) rotate(-90)" letter-spacing="0.15" font-family='"Liberation Sans", Arial, Helvetica, sans-serif' font-size="12.5">1770</text>
<text transform="translate(274.9,433.2) rotate(-90)" letter-spacing="0.15" font-family='"Liberation Sans", Arial, Helvetica, sans-serif' font-size="12.5">1780</text>
<text transform="translate(295.9,433.2) rotate(-90)" letter-spacing="0.15" font-family='"Liberation Sans", Arial, Helvetica, sans-serif' font-size="12.5">1790</text>
<text transform="translate(316.9,433.2) rotate(-90)" letter-spacing="0.15" font-family='"Liberation Sans", Arial, Helvetica, sans-serif' font-size="12.5">1800</text>
<text transform="translate(337.9,433.2) rotate(-90)" letter-spacing="0.15" font-family='"Liberation Sans", Arial, Helvetica, sans-serif' font-size="12.5">1810</text>
<text transform="translate(358.9,433.2) rotate(-90)" letter-spacing="0.15" font-family='"Liberation Sans", Arial, Helvetica, sans-serif' font-size="12.5">1820</text>
<text transform="translate(378.9,433.2) rotate(-90)" letter-spacing="0.15" font-family='"Liberation Sans", Arial, Helvetica, sans-serif' font-size="12.5">1830</text>
<text transform="translate(399.9,433.2) rotate(-90)" letter-spacing="0.15" font-family='"Liberation Sans", Arial, Helvetica, sans-serif' font-size="12.5">1840</text>
<text transform="translate(420.9,433.2) rotate(-90)" letter-spacing="0.15" font-family='"Liberation Sans", Arial, Helvetica, sans-serif' font-size="12.5">1850</text>
<text transform="translate(441.9,433.2) rotate(-90)" letter-spacing="0.15" font-family='"Liberation Sans", Arial, Helvetica, sans-serif' font-size="12.5">1860</text>
<text transform="translate(461.9,433.2) rotate(-90)" letter-spacing="0.15" font-family='"Liberation Sans", Arial, Helvetica, sans-serif' font-size="12.5">1870</text>
<text transform="translate(482.9,434.2) rotate(-90)" letter-spacing="0.15" font-family='"Liberation Sans", Arial, Helvetica, sans-serif' font-size="12.5">1880</text>
<text transform="translate(503.9,434.2) rotate(-90)" letter-spacing="0.15" font-family='"Liberation Sans", Arial, Helvetica, sans-serif' font-size="12.5">1890</text>
<text transform="translate(524.9,434.2) rotate(-90)" letter-spacing="0.15" font-family='"Liberation Sans", Arial, Helvetica, sans-serif' font-size="12.5">1900</text>
<text transform="translate(546.9,434.2) rotate(-90)" letter-spacing="0.15" font-family='"Liberation Sans", Arial, Helvetica, sans-serif' font-size="12.5">1910</text>
<text transform="translate(566.9,434.2) rotate(-90)" letter-spacing="0.15" font-family='"Liberation Sans", Arial, Helvetica, sans-serif' font-size="12.5">1920</text>
<text transform="translate(586.9,434.2) rotate(-90)" letter-spacing="0.15" font-family='"Liberation Sans", Arial, Helvetica, sans-serif' font-size="12.5">1930</text>
<text transform="translate(607.9,434.2) rotate(-90)" letter-spacing="0.15" font-family='"Liberation Sans", Arial, Helvetica, sans-serif' font-size="12.5">1940</text>
<text transform="translate(628.9,434.2) rotate(-90)" letter-spacing="0.15" font-family='"Liberation Sans", Arial, Helvetica, sans-serif' font-size="12.5">1950</text>
<text transform="translate(649.9,434.2) rotate(-90)" letter-spacing="0.15" font-family='"Liberation Sans", Arial, Helvetica, sans-serif' font-size="12.5">1960</text>
<text transform="translate(669.9,434.2) rotate(-90)" letter-spacing="0.15" font-family='"Liberation Sans", Arial, Helvetica, sans-serif' font-size="12.5">1970</text>
<text transform="translate(690.9,434.2) rotate(-90)" letter-spacing="0.15" font-family='"Liberation Sans", Arial, Helvetica, sans-serif' font-size="12.5">1980</text>
<text transform="translate(711.9,435.2) rotate(-90)" letter-spacing="0.15" font-family='"Liberation Sans", Arial, Helvetica, sans-serif' font-size="12.5">1990</text>
</g>
</svg>
</body></html>
